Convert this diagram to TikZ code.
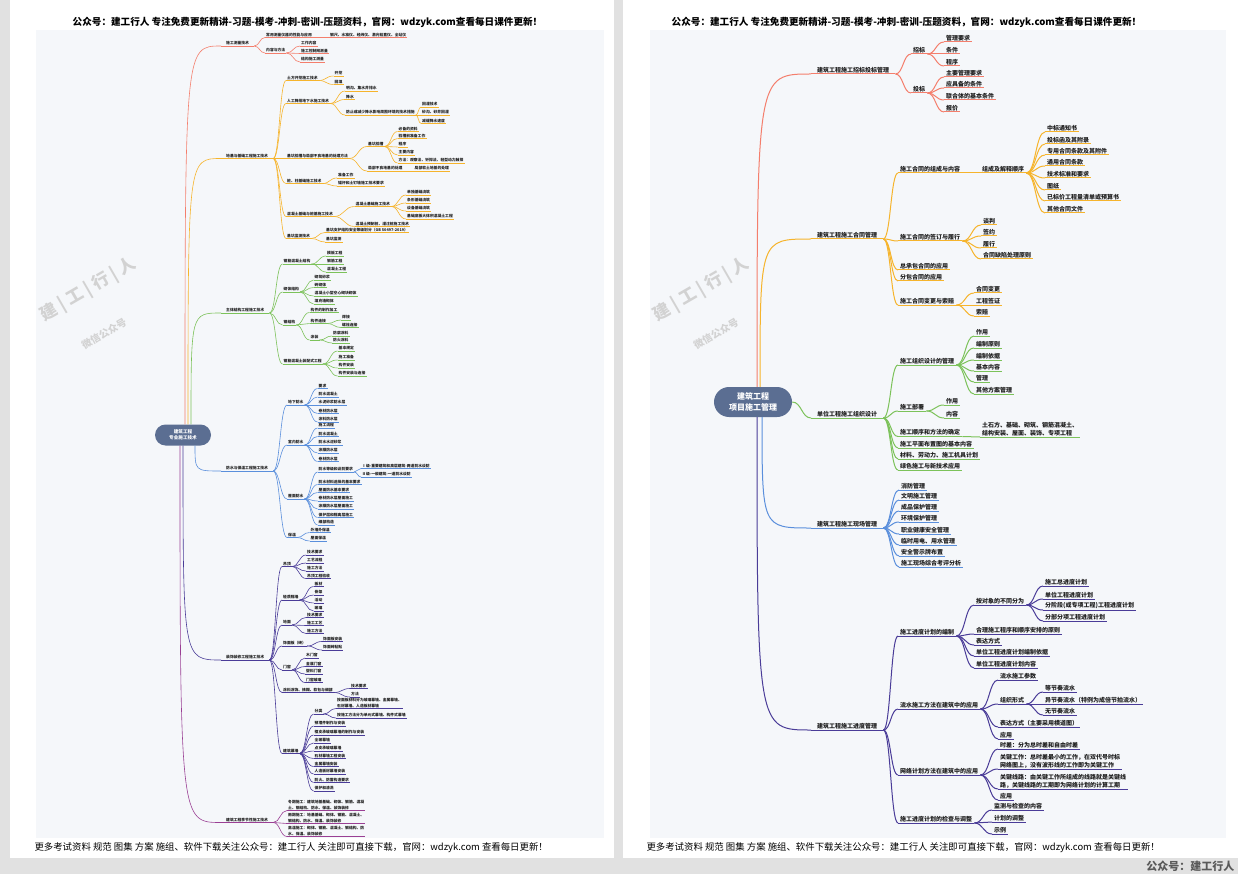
\documentclass[tikz,border=0pt]{standalone}
\usepackage{fontspec}
\setmainfont{Noto Sans CJK SC}
\usetikzlibrary{calc}

\definecolor{pagegrey}{HTML}{E1E1E1}
\definecolor{canvas}{HTML}{F5F7FA}
\definecolor{mmtext}{HTML}{1E1E1E}
\definecolor{rootfill}{HTML}{5B6E92}
\definecolor{brred}{HTML}{F47E6C}
\definecolor{brorange}{HTML}{F6B42C}
\definecolor{brgreen}{HTML}{7CC25A}
\definecolor{brblue}{HTML}{5A8FDC}
\definecolor{brindigo}{HTML}{4A3C98}
\definecolor{brplum}{HTML}{9A3F94}
\definecolor{wmgrey}{HTML}{D2D2D2}
\colorlet{bc}{black}
\newcommand\mmfont{\bfseries\fontsize{6}{7.8}\selectfont}

\tikzset{
  mmnode/.style={anchor=south west, align=left, text=mmtext, inner xsep=2pt, inner ysep=0.8pt, font=\mmfont},
  mmtop/.style={mmnode, inner xsep=6pt},
  mmline/.style={draw=bc, line width=1pt},
  mmroot/.style={rectangle, fill=rootfill, text=white, align=center, inner sep=0pt},
  branch/.code={\colorlet{bc}{#1}},
  wmark/.style={text=wmgrey, rotate=30}
}

% S-shaped connector between two points
\newcommand\mmcurve[2]{%
  \coordinate (mmmid) at ($(#1)!.5!(#2)$);
  \draw[mmline] (#1) .. controls (mmmid |- #1) and (mmmid |- #2) .. (#2);}
% child node: parent, name, position, text
\newcommand\mmkid[4]{%
  \node[mmnode] (#2) at (#3) {#4};
  \draw[mmline] (#2.south west) -- (#2.south east);
  \mmcurve{#1.south east}{#2.south west}}
% first level node: start coordinate, name, position, text
\newcommand\mmbranch[4]{%
  \node[mmtop] (#2) at (#3) {#4};
  \draw[mmline] (#2.south west) -- (#2.south east);
  \draw[mmline] (#1) .. controls (#1 |- #2.south west) .. (#2.south west);}

\begin{document}
\begin{tikzpicture}[x=1pt, y=-1pt]
\useasboundingbox (0,0) rectangle (1238,874);
\fill[pagegrey] (0,0) rectangle (1238,874);
\fill[white] (10,0) rectangle (614,858);
\fill[white] (623,0) rectangle (1238,858);
\fill[canvas] (36,30) rectangle (604,838);
\fill[canvas] (650,30) rectangle (1226,838);

% headers and footers
\node[font=\bfseries\fontsize{9.6}{11}\selectfont] (hdl) at (307.5,22) {公众号：建工行人 专注免费更新精讲-习题-模考-冲刺-密训-压题资料，官网：wdzyk.com查看每日课件更新！};
\node[font=\bfseries\fontsize{9.6}{11}\selectfont] (hdr) at (906.5,22) {公众号：建工行人 专注免费更新精讲-习题-模考-冲刺-密训-压题资料，官网：wdzyk.com查看每日课件更新！};
\node[anchor=west, font=\fontsize{9.4}{11}\selectfont] (ftl) at (31,848) {更多考试资料 规范 图集 方案 施组、软件下载关注公众号：建工行人 关注即可直接下载，官网：wdzyk.com 查看每日更新！};
\node[anchor=west, font=\fontsize{9.4}{11}\selectfont] (ftr) at (643,848) {更多考试资料 规范 图集 方案 施组、软件下载关注公众号：建工行人 关注即可直接下载，官网：wdzyk.com 查看每日更新！};
\node[anchor=east, text=black!65, font=\bfseries\fontsize{11}{12}\selectfont] (gzh) at (1238,866) {公众号：建工行人};

% watermarks
\node[wmark, font=\bfseries\fontsize{17}{17}\selectfont] (wml) at (88,290) {建 | 工 | 行 | 人};
\node[wmark, font=\bfseries\fontsize{10}{10}\selectfont] (wmls) at (104,334) {微信公众号};
\node[wmark, font=\bfseries\fontsize{17}{17}\selectfont] (wmr) at (701,290) {建 | 工 | 行 | 人};
\node[wmark, font=\bfseries\fontsize{10}{10}\selectfont] (wmrs) at (716,334) {微信公众号};

%%%%%%%%%%%%%%%% left page
\begin{scope}[mmnode/.append style={inner xsep=1pt, inner ysep=0.5pt}, mmline/.append style={line width=0.6pt}, mmtop/.append style={inner xsep=5pt}]
\renewcommand\mmfont{\bfseries\fontsize{3.8}{5.6}\selectfont}
\node[mmroot, minimum width=56pt, minimum height=21pt, rounded corners=10.5pt, font=\bfseries\fontsize{4.6}{6}\selectfont] (zy) at (183,435) {建筑工程\\专业施工技术};
\coordinate (zyt1) at ([xshift=2pt]zy.north);
\coordinate (zyt2) at ([xshift=5pt]zy.north);
\coordinate (zyt3) at ([xshift=8pt]zy.north);
\coordinate (zyb1) at ([xshift=12pt]zy.south);
\coordinate (zyb2) at ([xshift=0pt]zy.south);
\coordinate (zyb3) at ([xshift=-3pt]zy.south);

\begin{scope}[branch=brred]
\mmbranch{zyt1}{cl}{221,46}{施工测量技术}
\mmkid{cl}{cl1}{265,37.5}{常用测量仪器的性能与应用}
\mmkid{cl1}{cl1a}{329,37.5}{钢尺、水准仪、经纬仪、激光铅直仪、全站仪}
\mmkid{cl}{cl2}{265,53}{内容与方法}
\mmkid{cl2}{cl2a}{300,46}{工作内容}
\mmkid{cl2}{cl2b}{300,53.5}{施工控制网测量}
\mmkid{cl2}{cl2c}{300,62}{结构施工测量}
\end{scope}

\begin{scope}[branch=brorange]
\mmbranch{zyt2}{dj}{221,158.5}{地基与基础工程施工技术}
\mmkid{dj}{dj1}{286,80.5}{土方开挖施工技术}
\mmkid{dj1}{dj1a}{333.5,76}{开挖}
\mmkid{dj1}{dj1b}{333.5,84.5}{回填}
\mmkid{dj}{dj2}{286,103.5}{人工降排地下水施工技术}
\mmkid{dj2}{dj2a}{345,91}{明沟、集水井排水}
\mmkid{dj2}{dj2b}{345,99.5}{降水}
\mmkid{dj2}{dj2c}{345,115}{防止或减少降水影响周围环境的技术措施}
\mmkid{dj2c}{dj2c1}{421,107}{回灌技术}
\mmkid{dj2c}{dj2c2}{421,115}{砂沟、砂井回灌}
\mmkid{dj2c}{dj2c3}{421,123.5}{减缓降水速度}
\mmkid{dj}{dj3}{286,158.5}{基坑验槽与局部不良地基的处理方法}
\mmkid{dj3}{dj3a}{367,146.5}{基坑验槽}
\mmkid{dj3a}{dj3a1}{397.5,131.5}{必备的资料}
\mmkid{dj3a}{dj3a2}{397.5,138.5}{验槽前准备工作}
\mmkid{dj3a}{dj3a3}{397.5,147}{程序}
\mmkid{dj3a}{dj3a4}{397.5,155}{主要内容}
\mmkid{dj3a}{dj3a5}{397.5,163}{方法：观察法、钎探法、轻型动力触探}
\mmkid{dj3}{dj3b}{367,171}{局部不良地基的处理}
\mmkid{dj3b}{dj3b1}{413.5,171}{局部软土地基的处理}
\mmkid{dj}{dj4}{286,183.5}{桩、柱基础施工技术}
\mmkid{dj4}{dj4a}{337,178}{准备工作}
\mmkid{dj4}{dj4b}{337,186}{锚杆和土钉墙施工技术要求}
\mmkid{dj}{dj5}{286,216.5}{混凝土基础与桩基施工技术}
\mmkid{dj5}{dj5a}{354.5,206.5}{混凝土基础施工技术}
\mmkid{dj5a}{dj5a1}{406,195}{单独基础浇筑}
\mmkid{dj5a}{dj5a2}{406,203}{条形基础浇筑}
\mmkid{dj5a}{dj5a3}{406,211}{设备基础浇筑}
\mmkid{dj5a}{dj5a4}{406,219}{基础底板大体积混凝土工程}
\mmkid{dj5}{dj5b}{354.5,226.5}{混凝土预制桩、灌注桩施工技术}
\mmkid{dj}{dj6}{286,238.5}{基坑监测技术}
\mmkid{dj6}{dj6a}{325,232.5}{基坑支护结构安全等级划分（GB 50497-2019）}
\mmkid{dj6}{dj6b}{325,242}{基坑监测}
\end{scope}

\begin{scope}[branch=brgreen]
\mmbranch{zyt3}{zt}{221,313}{主体结构工程施工技术}
\mmkid{zt}{zt1}{282.5,264}{钢筋混凝土结构}
\mmkid{zt1}{zt1a}{326,256}{模板工程}
\mmkid{zt1}{zt1b}{326,264}{钢筋工程}
\mmkid{zt1}{zt1c}{326,272}{混凝土工程}
\mmkid{zt}{zt2}{282.5,292}{砌体结构}
\mmkid{zt2}{zt2a}{313.5,280}{砌筑砂浆}
\mmkid{zt2}{zt2b}{313.5,287.5}{砖砌体}
\mmkid{zt2}{zt2c}{313.5,296}{混凝土小型空心砌块砌体}
\mmkid{zt2}{zt2d}{313.5,304}{填充墙砌体}
\mmkid{zt}{zt3}{282.5,325}{钢结构}
\mmkid{zt3}{zt3a}{309.5,312.5}{构件的制作加工}
\mmkid{zt3}{zt3b}{309.5,323.5}{构件连接}
\mmkid{zt3b}{zt3b1}{341,320}{焊接}
\mmkid{zt3b}{zt3b2}{341,327.5}{螺栓连接}
\mmkid{zt3}{zt3c}{309.5,340}{涂装}
\mmkid{zt3c}{zt3c1}{332,336}{防腐涂料}
\mmkid{zt3c}{zt3c2}{332,343}{防火涂料}
\mmkid{zt}{zt4}{282.5,364}{钢筋混凝土装配式工程}
\mmkid{zt4}{zt4a}{337.5,351}{基本规定}
\mmkid{zt4}{zt4b}{337.5,360}{施工准备}
\mmkid{zt4}{zt4c}{337.5,368}{构件安装}
\mmkid{zt4}{zt4d}{337.5,376}{构件安装与连接}
\end{scope}

\begin{scope}[branch=brblue]
\mmbranch{zyb1}{fs}{221,471}{防水与保温工程施工技术}
\mmkid{fs}{fs1}{287,405}{地下防水}
\mmkid{fs1}{fs1a}{317.5,388.5}{要求}
\mmkid{fs1}{fs1b}{317.5,397}{防水混凝土}
\mmkid{fs1}{fs1c}{317.5,405}{水泥砂浆防水层}
\mmkid{fs1}{fs1d}{317.5,413.5}{卷材防水层}
\mmkid{fs1}{fs1e}{317.5,422}{涂料防水层}
\mmkid{fs}{fs2}{287,445}{室内防水}
\mmkid{fs2}{fs2a}{317.5,428}{施工流程}
\mmkid{fs2}{fs2b}{317.5,436.5}{防水混凝土}
\mmkid{fs2}{fs2c}{317.5,445}{防水水泥砂浆}
\mmkid{fs2}{fs2d}{317.5,453}{涂膜防水层}
\mmkid{fs2}{fs2e}{317.5,461.5}{卷材防水层}
\mmkid{fs}{fs3}{287,499}{屋面防水}
\mmkid{fs3}{fs3a}{317.5,472}{防水等级和设防要求}
\mmkid{fs3a}{fs3a1}{361,468.5}{Ⅰ级-重要建筑和高层建筑-两道防水设防}
\mmkid{fs3a}{fs3a2}{361,477}{Ⅱ级-一般建筑-一道防水设防}
\mmkid{fs3}{fs3b}{317.5,484.5}{防水材料选择的基本要求}
\mmkid{fs3}{fs3c}{317.5,492.5}{屋面防水基本要求}
\mmkid{fs3}{fs3d}{317.5,501}{卷材防水层屋面施工}
\mmkid{fs3}{fs3e}{317.5,509}{涂膜防水层屋面施工}
\mmkid{fs3}{fs3f}{317.5,517.5}{保护层和隔离层施工}
\mmkid{fs3}{fs3g}{317.5,525}{细部构造}
\mmkid{fs}{fs4}{287,537.5}{保温}
\mmkid{fs4}{fs4a}{309.5,532.5}{外墙外保温}
\mmkid{fs4}{fs4b}{309.5,541}{屋面保温}
\end{scope}

\begin{scope}[branch=brindigo]
\mmbranch{zyb2}{zs}{221,660}{装饰装修工程施工技术}
\mmkid{zs}{zs1}{282,566.5}{吊顶}
\mmkid{zs1}{zs1a}{306,555}{技术要求}
\mmkid{zs1}{zs1b}{306,563}{工艺流程}
\mmkid{zs1}{zs1c}{306,571}{施工方法}
\mmkid{zs1}{zs1d}{306,578.5}{吊顶工程验收}
\mmkid{zs}{zs2}{282,600}{轻质隔墙}
\mmkid{zs2}{zs2a}{313.5,586.5}{板材}
\mmkid{zs2}{zs2b}{313.5,595}{骨架}
\mmkid{zs2}{zs2c}{313.5,603}{活动}
\mmkid{zs2}{zs2d}{313.5,611}{玻璃}
\mmkid{zs}{zs3}{282,625}{地面}
\mmkid{zs3}{zs3a}{306,617.5}{技术要求}
\mmkid{zs3}{zs3b}{306,625.5}{施工工艺}
\mmkid{zs3}{zs3c}{306,633.5}{施工方法}
\mmkid{zs}{zs4}{282,646}{饰面板（砖）}
\mmkid{zs4}{zs4a}{322,641.5}{饰面板安装}
\mmkid{zs4}{zs4b}{322,650}{饰面砖粘贴}
\mmkid{zs}{zs5}{282,670}{门窗}
\mmkid{zs5}{zs5a}{305,658}{木门窗}
\mmkid{zs5}{zs5b}{305,666.5}{金属门窗}
\mmkid{zs5}{zs5c}{305,674}{塑料门窗}
\mmkid{zs5}{zs5d}{305,682.5}{门窗玻璃}
\mmkid{zs}{zs6}{282,692.5}{涂料涂饰、裱糊、软包与细部}
\mmkid{zs6}{zs6a}{350,688.5}{技术要求}
\mmkid{zs6}{zs6b}{350,697}{方法}
\mmkid{zs}{zs7}{282,753.5}{建筑幕墙}
\mmkid{zs7}{zs7a}{313.5,714}{分类}
\mmkid{zs7a}{zs7a1}{336,708.5}{按面板材料分为玻璃幕墙、金属幕墙、\\石材幕墙、人造板材幕墙}
\mmkid{zs7a}{zs7a2}{336,718}{按施工方法分为单元式幕墙、构件式幕墙}
\mmkid{zs7}{zs7b}{313.5,726}{预埋件制作与安装}
\mmkid{zs7}{zs7c}{313.5,735}{框支承玻璃幕墙的制作与安装}
\mmkid{zs7}{zs7d}{313.5,743}{全玻幕墙}
\mmkid{zs7}{zs7e}{313.5,751}{点支承玻璃幕墙}
\mmkid{zs7}{zs7f}{313.5,758.5}{石材幕墙工程安装}
\mmkid{zs7}{zs7g}{313.5,766.5}{金属幕墙安装}
\mmkid{zs7}{zs7h}{313.5,774}{人造板材幕墙安装}
\mmkid{zs7}{zs7i}{313.5,782.5}{防火、防雷构造要求}
\mmkid{zs7}{zs7j}{313.5,791}{保护和清洗}
\end{scope}

\begin{scope}[branch=brplum]
\mmbranch{zyb3}{jj}{221,822.5}{建筑工程季节性施工技术}
\mmkid{jj}{jj1}{287,810.5}{冬期施工：建筑地基基础、砌体、钢筋、混凝\\土、钢结构、防水、保温、装饰装修}
\mmkid{jj}{jj2}{287,823.5}{雨期施工：地基基础、砌体、钢筋、混凝土、\\钢结构、防水、保温、装饰装修}
\mmkid{jj}{jj3}{287,836.5}{高温施工：砌体、钢筋、混凝土、钢结构、防\\水、保温、装饰装修}
\end{scope}
\end{scope}

%%%%%%%%%%%%%%%% right page
\node[mmroot, minimum width=78pt, minimum height=30pt, rounded corners=15pt, font=\bfseries\fontsize{8}{10.5}\selectfont] (xm) at (753,402) {建筑工程\\项目施工管理};
\coordinate (xmt1) at ([xshift=4pt]xm.north);
\coordinate (xmt2) at ([xshift=7pt]xm.north);
\coordinate (xmb1) at ([xshift=9pt]xm.south);
\coordinate (xmb2) at ([xshift=4pt]xm.south);

\begin{scope}[branch=brred]
\mmbranch{xmt1}{zb}{811,74}{建筑工程施工招标投标管理}
\mmkid{zb}{zb1}{911,54}{招标}
\mmkid{zb1}{zb1a}{944,42}{管理要求}
\mmkid{zb1}{zb1b}{944,54}{条件}
\mmkid{zb1}{zb1c}{944,66}{程序}
\mmkid{zb}{zb2}{911,93}{投标}
\mmkid{zb2}{zb2a}{944,77}{主要管理要求}
\mmkid{zb2}{zb2b}{944,88}{应具备的条件}
\mmkid{zb2}{zb2c}{944,100}{联合体的基本条件}
\mmkid{zb2}{zb2d}{944,112}{报价}
\end{scope}

\begin{scope}[branch=brorange]
\mmbranch{xmt2}{ht}{811,239}{建筑工程施工合同管理}
\mmkid{ht}{ht1}{898,173}{施工合同的组成与内容}
\mmkid{ht1}{ht1a}{980,173}{组成及解释顺序}
\mmkid{ht1a}{ht1a1}{1045,132}{中标通知书}
\mmkid{ht1a}{ht1a2}{1045,144}{投标函及其附录}
\mmkid{ht1a}{ht1a3}{1045,155}{专用合同条款及其附件}
\mmkid{ht1a}{ht1a4}{1045,166}{通用合同条款}
\mmkid{ht1a}{ht1a5}{1045,178}{技术标准和要求}
\mmkid{ht1a}{ht1a6}{1045,190}{图纸}
\mmkid{ht1a}{ht1a7}{1045,201}{已标价工程量清单或预算书}
\mmkid{ht1a}{ht1a8}{1045,213}{其他合同文件}
\mmkid{ht}{ht2}{898,241}{施工合同的签订与履行}
\mmkid{ht2}{ht2a}{981,225}{谈判}
\mmkid{ht2}{ht2b}{981,236}{签约}
\mmkid{ht2}{ht2c}{981,248}{履行}
\mmkid{ht2}{ht2d}{981,259}{合同缺陷处理原则}
\mmkid{ht}{ht3}{898,270}{总承包合同的应用}
\mmkid{ht}{ht4}{898,281}{分包合同的应用}
\mmkid{ht}{ht5}{898,305}{施工合同变更与索赔}
\mmkid{ht5}{ht5a}{974,293}{合同变更}
\mmkid{ht5}{ht5b}{974,305}{工程签证}
\mmkid{ht5}{ht5c}{974,316}{索赔}
\end{scope}

\begin{scope}[branch=brgreen]
\node[mmtop] (zz) at (811,418) {单位工程施工组织设计};
\draw[mmline] (zz.south west) -- (zz.south east);
\mmcurve{xm.east}{zz.south west}
\mmkid{zz}{zz1}{898,365}{施工组织设计的管理}
\mmkid{zz1}{zz1a}{974,336}{作用}
\mmkid{zz1}{zz1b}{974,348}{编制原则}
\mmkid{zz1}{zz1c}{974,360}{编制依据}
\mmkid{zz1}{zz1d}{974,371}{基本内容}
\mmkid{zz1}{zz1e}{974,382}{管理}
\mmkid{zz1}{zz1f}{974,394}{其他方案管理}
\mmkid{zz}{zz2}{898,411}{施工部署}
\mmkid{zz2}{zz2a}{944,405}{作用}
\mmkid{zz2}{zz2b}{944,418}{内容}
\mmkid{zz}{zz3}{898,436.5}{施工顺序和方法的确定}
\mmkid{zz3}{zz3a}{980,437}{土石方、基础、砌筑、钢筋混凝土、\\结构安装、屋面、装饰、专项工程}
\mmkid{zz}{zz4}{898,448}{施工平面布置图的基本内容}
\mmkid{zz}{zz5}{898,459}{材料、劳动力、施工机具计划}
\mmkid{zz}{zz6}{898,470}{绿色施工与新技术应用}
\end{scope}

\begin{scope}[branch=brblue]
\mmbranch{xmb1}{xc}{811,528}{建筑工程施工现场管理}
\mmkid{xc}{xc1}{899,490}{消防管理}
\mmkid{xc}{xc2}{899,500}{文明施工管理}
\mmkid{xc}{xc3}{899,511}{成品保护管理}
\mmkid{xc}{xc4}{899,522}{环境保护管理}
\mmkid{xc}{xc5}{899,534}{职业健康安全管理}
\mmkid{xc}{xc6}{899,545}{临时用电、用水管理}
\mmkid{xc}{xc7}{899,556}{安全警示牌布置}
\mmkid{xc}{xc8}{899,567}{施工现场综合考评分析}
\end{scope}

\begin{scope}[branch=brindigo]
\mmbranch{xmb2}{jd}{811,730}{建筑工程施工进度管理}
\mmkid{jd}{jd1}{898,636}{施工进度计划的编制}
\mmkid{jd1}{jd1a}{974,605}{按对象的不同分为}
\mmkid{jd1a}{jd1a1}{1043,586}{施工总进度计划}
\mmkid{jd1a}{jd1a2}{1043,599}{单位工程进度计划}
\mmkid{jd1a}{jd1a3}{1043,610}{分阶段(或专项工程)工程进度计划}
\mmkid{jd1a}{jd1a4}{1043,621}{分部分项工程进度计划}
\mmkid{jd1}{jd1b}{974,634}{合理施工程序和顺序安排的原则}
\mmkid{jd1}{jd1c}{974,645}{表达方式}
\mmkid{jd1}{jd1d}{974,656}{单位工程进度计划编制依据}
\mmkid{jd1}{jd1e}{974,668}{单位工程进度计划内容}
\mmkid{jd}{jd2}{898,709}{流水施工方法在建筑中的应用}
\mmkid{jd2}{jd2a}{998,680}{流水施工参数}
\mmkid{jd2}{jd2b}{998,704}{组织形式}
\mmkid{jd2b}{jd2b1}{1043,692}{等节奏流水}
\mmkid{jd2b}{jd2b2}{1043,704}{异节奏流水（特例为成倍节拍流水）}
\mmkid{jd2b}{jd2b3}{1043,715}{无节奏流水}
\mmkid{jd2}{jd2c}{998,727}{表达方式（主要采用横道图）}
\mmkid{jd2}{jd2d}{998,739}{应用}
\mmkid{jd}{jd3}{898,775}{网络计划方法在建筑中的应用}
\mmkid{jd3}{jd3a}{998,749}{时差：分为总时差和自由时差}
\mmkid{jd3}{jd3b}{998,769}{关键工作：总时差最小的工作，在双代号时标\\网络图上，没有波形线的工作即为关键工作}
\mmkid{jd3}{jd3c}{998,789}{关键线路：由关键工作所组成的线路就是关键线\\路，关键线路的工期即为网络计划的计算工期}
\mmkid{jd3}{jd3d}{998,800}{应用}
\mmkid{jd}{jd4}{898,823}{施工进度计划的检查与调整}
\mmkid{jd4}{jd4a}{992,810}{监测与检查的内容}
\mmkid{jd4}{jd4b}{992,822}{计划的调整}
\mmkid{jd4}{jd4c}{992,834}{示例}
\end{scope}
\end{tikzpicture}
\end{document}
